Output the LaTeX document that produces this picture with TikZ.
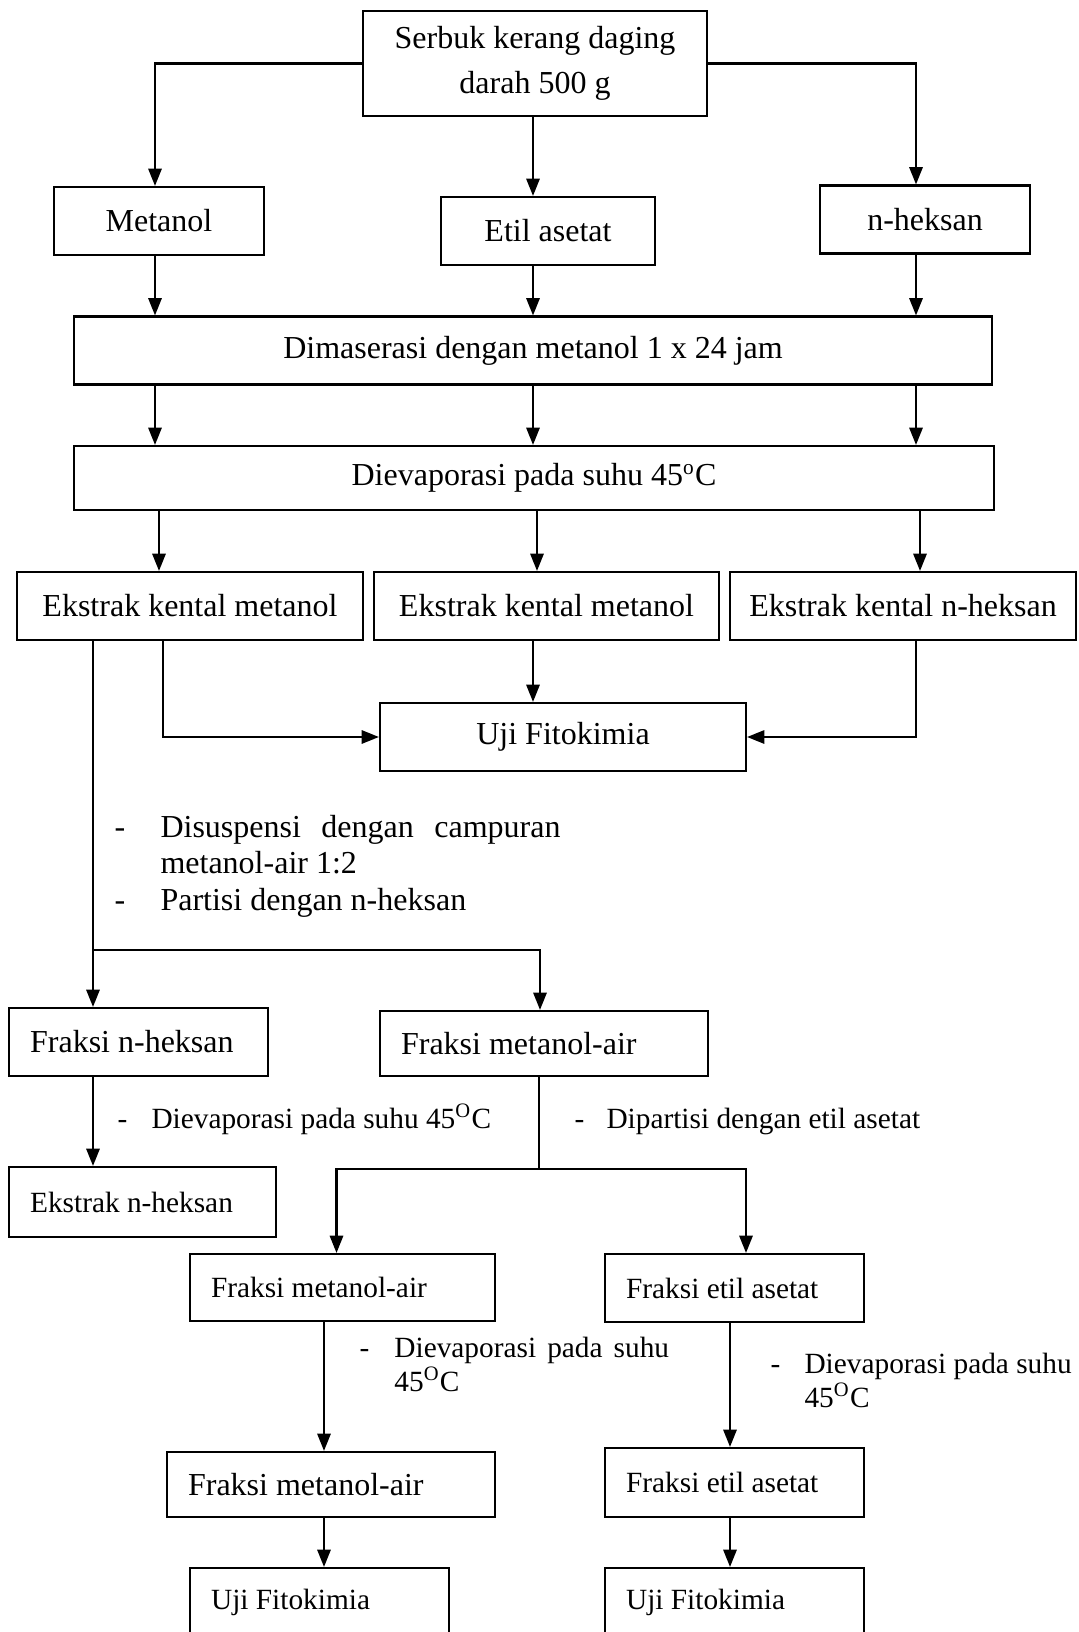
\documentclass[tikz,border=0pt]{standalone}
\usepackage{fontspec}
\setmainfont{Liberation Serif}
\usetikzlibrary{arrows.meta, positioning, calc}

\begin{document}
\begin{tikzpicture}[x=0.375pt, y=-0.375pt, >={Triangle[length=6.5pt, width=5pt]}, font=\fontsize{12}{13.8}\selectfont]

% Styles
\tikzset{
  box/.style={rectangle, draw=black, line width=0.8pt, minimum height=25.5pt, align=center, inner sep=0pt},
  lbox/.style={rectangle, draw=black, line width=0.8pt, minimum height=25.5pt, align=flush left, inner xsep=7.9pt, inner ysep=0pt, text width=#1},
  small/.style={font=\fontsize{11}{12.4}\selectfont},
  arrow/.style={line width=0.8pt, ->},
  line/.style={line width=0.6pt},
  note/.style={anchor=base west, inner sep=0pt}
}

\useasboundingbox (0,0) rectangle (1078,1632);
\clip (0,0) rectangle (1078,1632);

% columns of the arrows
\coordinate (colL) at (155,0);
\coordinate (colM) at (533,0);
\coordinate (colR) at (916,0);
\coordinate (colC) at (324,0);
\coordinate (colD) at (730,0);

% --- Nodes ---

% 1. Sample and solvents
\node (serbuk) [box, minimum width=129pt, minimum height=39.4pt] at (535,63.5) {Serbuk kerang daging\\[3pt] darah 500 g};
\node (metanol) [box, minimum width=78.75pt] at (159,221) {Metanol};
\node (etil) [box, minimum width=80.25pt] at (548,231) {Etil asetat};
\node (heksan) [box, minimum width=78.75pt] at (925,219.5) {n-heksan};

% 2. Maceration and evaporation
\node (maserasi) [box, minimum width=344.25pt] at (533,350.5) {Dimaserasi dengan metanol 1 x 24 jam};
\node (evap) [box, minimum width=345pt, minimum height=24pt] at (534,478) {Dievaporasi pada suhu 45\textsuperscript{o}C};

% 3. Thick extracts
\node (ek1) [box, minimum width=129.75pt] at (190,606) {Ekstrak kental metanol};
\node (ek2) [box, minimum width=129.4pt] at (546.5,606) {Ekstrak kental metanol};
\node (ek3) [box, minimum width=129.75pt] at (903,606) {Ekstrak kental n-heksan};
\node (uji) [box, minimum width=137.25pt] at (563,737) {Uji Fitokimia};

% 4. Partition
\node (fnh) [lbox=81.3pt] at (138.5,1042) {Fraksi n-heksan};
\node (fma) [lbox=107.2pt, minimum height=24.4pt] at (544,1043.5) {Fraksi metanol-air};
\node (enh) [lbox=84.3pt, minimum height=26.25pt, small] at (142.5,1202) {Ekstrak n-heksan};

% 5. Fractions
\node (fma2) [lbox=98.6pt, minimum height=25.1pt, small] at (342.5,1287.5) {Fraksi metanol-air};
\node (fea2) [lbox=81.3pt, small] at (734.5,1288) {Fraksi etil asetat};
\node (fma3) [lbox=107.2pt, minimum height=24.4pt] at (331,1484.5) {Fraksi metanol-air};
\node (fea3) [lbox=81.3pt, minimum height=25.9pt, small] at (734.5,1482.5) {Fraksi etil asetat};
\node (uji2) [lbox=81.3pt, small] at (319.5,1602) {Uji Fitokimia};
\node (uji3) [lbox=81.3pt, small] at (734.5,1602) {Uji Fitokimia};

% --- Notes ---
\node (note1) [note] at (114,837) {\begin{tabular}[t]{@{}p{17.25pt}@{}p{150pt}@{}}
  - & Disuspensi dengan campuran metanol-air 1:2\\
  - & Partisi dengan n-heksan
\end{tabular}};
\node (note2) [note, small] at (117,1128) {\makebox[12.75pt][l]{-}Dievaporasi pada suhu 45\textsuperscript{O}C};
\node (note3) [note, small] at (574,1128) {\makebox[12pt][l]{-}Dipartisi dengan etil asetat};
\node (note4) [note, small] at (359,1357) {\begin{tabular}[t]{@{}p{13.1pt}@{}l@{}}
  - & \makebox[103pt][s]{Dievaporasi pada suhu}\\
    & 45\textsuperscript{O}C
\end{tabular}};
\node (note5) [note, small] at (770,1373) {\begin{tabular}[t]{@{}p{12.75pt}@{}l@{}}
  - & Dievaporasi pada suhu\\
    & 45\textsuperscript{O}C
\end{tabular}};

% --- Arrows ---
\draw[arrow] (serbuk.west) -| (colL |- metanol.north);
\draw[arrow] (serbuk.east) -| (colR |- heksan.north);
\draw[arrow] (colM |- serbuk.south) -- (colM |- etil.north);

\draw[arrow] (colL |- metanol.south) -- (colL |- maserasi.north);
\draw[arrow] (colM |- etil.south) -- (colM |- maserasi.north);
\draw[arrow] (colR |- heksan.south) -- (colR |- maserasi.north);

\foreach \c in {colL, colM, colR} {
  \draw[arrow] (\c |- maserasi.south) -- (\c |- evap.north);
  \draw[arrow] ($(\c |- evap.south)+(4,0)$) -- ($(\c |- ek1.north)+(4,0)$);
}

\draw[arrow] ($(ek1.south)+(-27,0)$) |- (uji.west);
\draw[arrow] (colM |- ek2.south) -- (colM |- uji.north);
\draw[arrow] (colR |- ek3.south) |- (uji.east);

% partition of the methanol extract
\coordinate (split1) at (93,950);
\draw[arrow] (split1 |- ek1.south) -- (split1 |- fnh.north);
\draw[arrow] (split1) -| ($(fma.north)+(-4,0)$);
\draw[arrow] (split1 |- fnh.south) -- (split1 |- enh.north);

% partition with ethyl acetate
\coordinate (split2) at (539,1169);
\draw[line] (split2 |- fma.south) -- (split2);
\draw[arrow] (split2) -| ($(fma2.north)+(-6,0)$);
\draw[arrow] (split2) -| ($(fea2.north)+(11.5,0)$);

\draw[arrow] (colC |- fma2.south) -- (colC |- fma3.north);
\draw[arrow] (colD |- fea2.south) -- (colD |- fea3.north);
\draw[arrow] (colC |- fma3.south) -- (colC |- uji2.north);
\draw[arrow] (colD |- fea3.south) -- (colD |- uji3.north);

\end{tikzpicture}
\end{document}
